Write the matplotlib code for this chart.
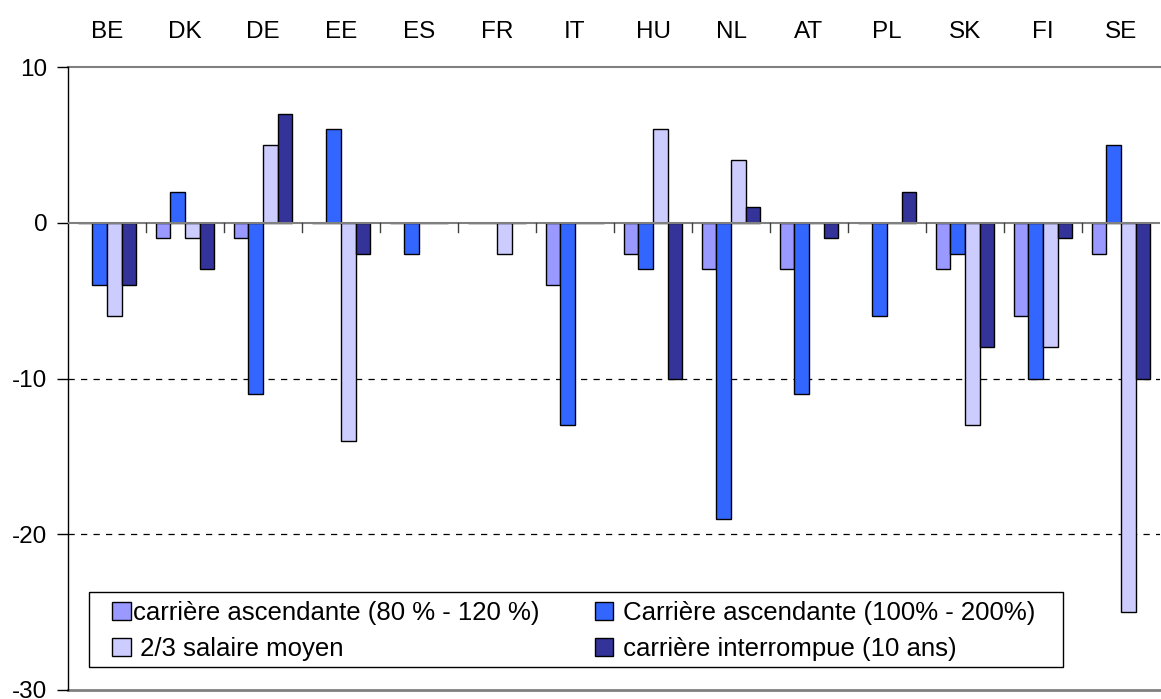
import matplotlib
matplotlib.use("Agg")
import matplotlib.pyplot as plt
from matplotlib.patches import Rectangle
import numpy as np

plt.rcParams['font.family'] = ['Liberation Sans', 'DejaVu Sans']

countries = ["BE", "DK", "DE", "EE", "ES", "FR", "IT", "HU", "NL", "AT", "PL", "SK", "FI", "SE"]
carriere_80_120 = [0, -1, -1, 0, 0, 0, -4, -2, -3, -3, 0, -3, -6, -2]
carriere_100_200 = [-4, 2, -11, 6, -2, 0, -13, -3, -19, -11, -6, -2, -10, 5]
deux_tiers_salaire = [-6, -1, 5, -14, 0, -2, 0, 6, 4, 0, 0, -13, -8, -25]
carriere_interrompue = [-4, -3, 7, -2, 0, 0, 0, -10, 1, -1, 2, -8, -1, -10]

series = [
    ("carrière ascendante (80 % - 120 %)", carriere_80_120, "#9999FF"),
    (" Carrière ascendante (100% - 200%)", carriere_100_200, "#3366FF"),
    (" 2/3 salaire moyen", deux_tiers_salaire, "#CCCCFF"),
    (" carrière interrompue (10 ans)", carriere_interrompue, "#333399"),
]

FS = 17.5
LFS = 18.5
W, H = 1161, 699
fig = plt.figure(figsize=(W / 100, H / 100), dpi=100)
ax = fig.add_axes([68 / W, 1 - 690 / H, (1160 - 68) / W, (690 - 67) / H])

n = len(countries)
x = np.arange(n)
bw = 0.1875
handles = []
for i, (label, vals, color) in enumerate(series):
    offs = (i - 1.5) * bw
    b = ax.bar(x + offs, vals, width=bw, color=color, edgecolor="black",
               linewidth=1.0, label=label, zorder=3)
    handles.append(b)

ax.set_xlim(-0.5, n - 0.5)
ax.set_ylim(-30, 10)

# y axis
ax.set_yticks([10, 0, -10, -20, -30])
ax.set_yticklabels(["10", "0", "-10", "-20", "-30"], fontsize=FS)
ax.tick_params(axis="y", direction="out", length=8, width=1, pad=7, color="black")

# horizontal reference lines
for yv in (-10, -20):
    ax.axhline(yv, color="black", linestyle=(0, (5, 5)), linewidth=0.9, zorder=1)
ax.axhline(0, color="#808080", linewidth=1.5, zorder=4)
ax.axhline(10, color="#808080", linewidth=1.5, zorder=1, clip_on=False)
ax.axhline(-30, color="#808080", linewidth=2.0, zorder=1, clip_on=False)

for s in ("top", "right", "bottom"):
    ax.spines[s].set_visible(False)
ax.spines["left"].set_color("black")
ax.spines["left"].set_linewidth(1.0)

# category boundary ticks below the zero line
ax.set_xticks([])
for k in range(1, n):
    ax.plot([k - 0.5, k - 0.5], [0, -0.58], color="#404040", linewidth=1.0, zorder=4)

# country labels along the top
sec = ax.secondary_xaxis("top")
sec.set_xticks(x)
sec.set_xticklabels(countries, fontsize=FS)
sec.tick_params(length=0, pad=17)
sec.spines["top"].set_visible(False)

# legend: two columns inside a plain rectangular frame
order = [0, 2, 1, 3]
leg = fig.legend([handles[i] for i in order], [series[i][0] for i in order],
                 ncol=2, loc="center left", bbox_to_anchor=(112 / W, 1 - 631 / H),
                 bbox_transform=fig.transFigure, borderaxespad=0, fontsize=LFS,
                 frameon=False, handlelength=0.72, handleheight=0.72,
                 handletextpad=0.1, columnspacing=2.15, labelspacing=0.45,
                 borderpad=0)
fig.patches.append(Rectangle((89 / W, 1 - 667 / H), (1063 - 89) / W, (667 - 592) / H,
                             transform=fig.transFigure, facecolor="white",
                             edgecolor="black", linewidth=1.0, zorder=5))
leg.set_zorder(6)

fig.savefig("out.png", dpi=100, facecolor="white")
